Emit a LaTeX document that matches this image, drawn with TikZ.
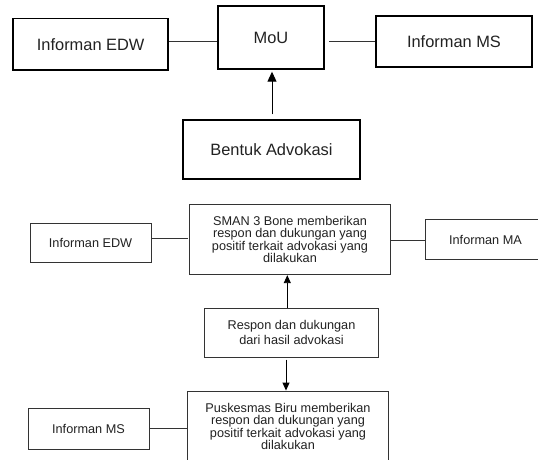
\documentclass[tikz,border=0pt]{standalone}
\usepackage{fontspec}
\setmainfont{Liberation Sans}
\usetikzlibrary{arrows.meta}
\definecolor{txt}{HTML}{222222}
\definecolor{ln}{HTML}{333333}
\tikzset{
  bigbox/.style={draw=black, line width=1.7pt, inner sep=0pt, text=txt,
    font=\fontsize{16.4}{19}\selectfont, align=center},
  smallbox/.style={draw=ln, line width=0.9pt, inner sep=0pt, text=txt,
    font=\fontsize{12.7}{11.8}\selectfont, align=center},
  conn/.style={draw=ln, line width=0.8pt},
  arr/.style={draw=black, line width=0.9pt, -{Triangle[length=8pt,width=7pt]}},
  bigarr/.style={draw=black, line width=1pt, -{Triangle[length=10pt,width=9pt]}}
}
\begin{document}
\begin{tikzpicture}[x=1pt,y=-1pt]
\useasboundingbox[fill=white] (0,0) rectangle (538,460);
% top section
\node[bigbox, minimum width=155pt, minimum height=51.5pt] (edwA) at (90.7,44.4) {Informan EDW};
\node[bigbox, minimum width=106.5pt, minimum height=62.5pt] (mou) at (271,37.6) {MoU};
\node[bigbox, minimum width=156.5pt, minimum height=51pt] (msA) at (454,41.3) {Informan MS};
\node[bigbox, minimum width=177.5pt, minimum height=58.5pt] (bentuk) at (271.5,149.5) {Bentuk Advokasi};
\draw[conn] (edwA.east |- 0,41.9) -- (mou.west |- 0,41.9);
\draw[conn, shorten <=4pt] (mou.east |- 0,41.9) -- (msA.west |- 0,41.9);
\draw[bigarr, shorten <=5pt, shorten >=2pt] (bentuk.north -| 272,0) -- (mou.south -| 272,0);
% middle section
\node[smallbox, minimum width=121pt, minimum height=39.5pt] (edwB) at (90.6,242.7) {Informan EDW};
\node[smallbox, minimum width=201pt, minimum height=70pt] (sman) at (290,239.7)
  {SMAN 3 Bone memberikan\\respon dan dukungan yang\\positif terkait advokasi yang\\dilakukan};
\node[smallbox, minimum width=121pt, minimum height=40pt] (ma) at (485.5,239.7) {Informan MA};
\node[smallbox, minimum width=173.5pt, minimum height=48.5pt,
  font=\fontsize{12.7}{15}\selectfont] (respon) at (291.5,332.8)
  {Respon dan dukungan\\dari hasil advokasi};
\draw[conn, shorten >=1.5pt] (edwB.east |- 0,238.7) -- (sman.west |- 0,238.7);
\draw[conn] (sman.east |- 0,240) -- (ma.west |- 0,240);
\draw[arr] (respon.north -| 287.3,0) -- (sman.south -| 287.3,0);
% bottom section
\node[smallbox, minimum width=201pt, minimum height=71pt,
  font=\fontsize{12.7}{12.4}\selectfont] (pusk) at (288,426.5)
  {Puskesmas Biru memberikan\\respon dan dukungan yang\\positif terkait advokasi yang\\dilakukan};
\node[smallbox, minimum width=121pt, minimum height=41.5pt] (msB) at (88.5,429) {Informan MS};
\draw[arr, shorten <=2pt] (respon.south -| 286,0) -- (pusk.north -| 286,0);
\draw[conn] (msB.east |- 0,428.8) -- (pusk.west |- 0,428.8);
\end{tikzpicture}
\end{document}
